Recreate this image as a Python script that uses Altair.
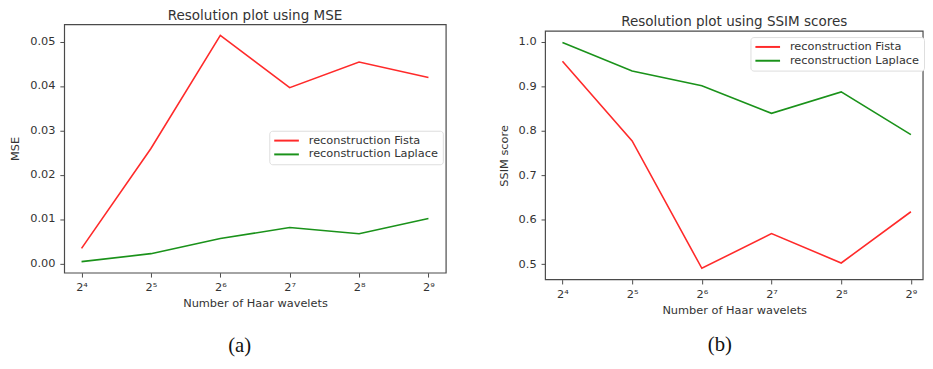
import altair as alt
import pandas as pd

wavelets = [16, 32, 64, 128, 256, 512]
mse_fista = [0.0034, 0.0259, 0.0514, 0.0396, 0.0454, 0.0419]
mse_laplace = [0.0004, 0.0022, 0.0056, 0.0081, 0.0067, 0.0101]
ssim_fista = [0.956, 0.777, 0.491, 0.569, 0.503, 0.618]
ssim_laplace = [0.998, 0.934, 0.901, 0.839, 0.887, 0.791]
series_names = ["reconstruction Fista", "reconstruction Laplace"]
series_colors = ["#ff2a2a", "#1a921a"]
titles = ["Resolution plot using MSE", "Resolution plot using SSIM scores"]
y_titles = ["MSE", "SSIM score"]
x_title = "Number of Haar wavelets"
captions = ["(a)", "(b)"]
mse_ticks = [0.0, 0.01, 0.02, 0.03, 0.04, 0.05]
ssim_ticks = [0.5, 0.6, 0.7, 0.8, 0.9, 1.0]

FRAME = "#4a4a4a"


def long_frame(a, b):
    rows = []
    for n, v in zip(wavelets, a):
        rows.append({"n": n, "value": v, "series": series_names[0]})
    for n, v in zip(wavelets, b):
        rows.append({"n": n, "value": v, "series": series_names[1]})
    return pd.DataFrame(rows)


label_expr = "'2' + ['⁰','¹','²','³','⁴','⁵','⁶','⁷','⁸','⁹'][round(log(datum.value)/LN2)]"


def panel(df, title, ytitle, yvals, yfmt, ydom, xdom, width, height, legend_y, caption,
          cap_x, cap_y, title_dy=0, y_range=None):
    yscale = alt.Scale(domain=ydom, nice=False, zero=False)
    if y_range is not None:
        yscale = alt.Scale(domain=ydom, nice=False, zero=False, range=y_range)
    lines = alt.Chart(df).mark_line(strokeWidth=1.6).encode(
        x=alt.X("n:Q",
                scale=alt.Scale(type="log", base=2, domain=xdom, nice=False),
                axis=alt.Axis(values=wavelets, labelExpr=label_expr, title=x_title)),
        y=alt.Y("value:Q", scale=yscale,
                axis=alt.Axis(values=yvals, format=yfmt, title=ytitle)),
        color=alt.Color("series:N",
                        scale=alt.Scale(domain=series_names, range=series_colors),
                        legend=alt.Legend(orient="none", legendX=208, legendY=legend_y, title=None)),
        detail="series:N",
    )
    cap = alt.Chart(pd.DataFrame({"t": [caption]})).mark_text(
        font="Liberation Serif", fontSize=21, baseline="middle", color="#111"
    ).encode(text="t:N", x=alt.value(cap_x), y=alt.value(cap_y))
    layers = [lines, cap]
    props = dict(width=width, height=height,
                 title=alt.TitleParams(title, anchor="middle", dy=title_dy))
    if y_range is not None:
        frame = alt.Chart(pd.DataFrame({"t": [0]})).mark_rect(
            fill="transparent", stroke=FRAME, strokeWidth=1.2
        ).encode(x=alt.value(0), x2=alt.value(width), y=alt.value(y_range[1]),
                 y2=alt.value(y_range[0]))
        layers.append(frame)
        props["view"] = alt.ViewBackground(strokeOpacity=0)
    return alt.layer(*layers).properties(**props)


left = panel(long_frame(mse_fista, mse_laplace), titles[0], y_titles[0], mse_ticks, ".2f",
             [-0.0021, 0.0539], [2 ** 3.75, 2 ** 9.25], 387, 252, 108, captions[0],
             178, 326)
right = panel(long_frame(ssim_fista, ssim_laplace), titles[1], y_titles[1], ssim_ticks, ".1f",
              [0.4656, 1.0234], [2 ** 3.755, 2 ** 9.174], 383, 259, 13, captions[1],
              177, 325, title_dy=6, y_range=[259, 7])

chart = alt.hconcat(left, right, spacing=52).resolve_scale(color="independent").resolve_legend(
    color="independent"
).properties(padding={"top": -3, "left": 1, "right": 0, "bottom": 0}).configure_view(
    stroke=FRAME, strokeWidth=1.2
).configure_axis(
    domain=False, grid=False, tickColor=FRAME, tickSize=4.4, labelColor="#333",
    labelFont="DejaVu Sans", labelFontSize=11.5, titleFont="DejaVu Sans", titleFontSize=11.5,
    titleFontWeight="normal", titleColor="#333", labelPadding=5
).configure_axisY(titlePadding=9).configure_axisX(titlePadding=4, labelPadding=5).configure_legend(
    fillColor="white", strokeColor="#dddddd", cornerRadius=3, padding=4,
    symbolType="M-1,0H4", symbolSize=100, symbolStrokeWidth=2, labelFont="DejaVu Sans",
    labelFontSize=11.5, labelColor="#333", rowPadding=2, labelOffset=24
).configure_title(
    font="DejaVu Sans", fontSize=13.7, fontWeight="normal", color="#333", offset=2
)

chart.save("out.html", embed_options={"renderer": "svg", "actions": False})
